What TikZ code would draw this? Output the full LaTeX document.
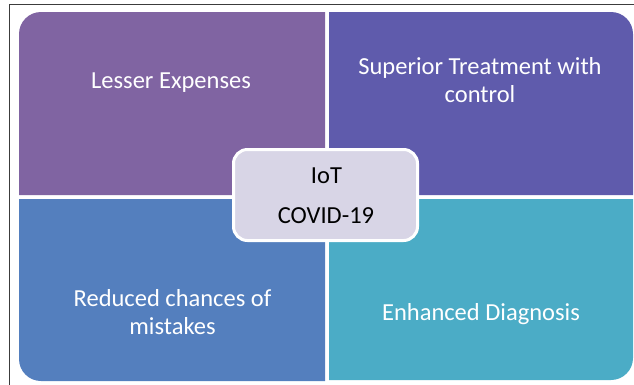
\documentclass[tikz,border=0pt]{standalone}
\usepackage{fontspec}
\setmainfont{Carlito}
\definecolor{qA}{RGB}{128,100,162}
\definecolor{qB}{RGB}{95,91,172}
\definecolor{qC}{RGB}{84,127,190}
\definecolor{qD}{RGB}{75,172,198}
\definecolor{coreFill}{RGB}{216,213,230}
\definecolor{frameCol}{RGB}{60,60,60}
\tikzset{
  x=1bp, y=1bp,
  quadtext/.style={text=white, align=center, inner sep=0pt, anchor=base, font=\fontsize{24.5bp}{27.5bp}\selectfont},
  coretext/.style={text=black, inner sep=0pt, anchor=base, font=\fontsize{24.5bp}{27.5bp}\selectfont},
  corebox/.style={draw=white, line width=3bp, fill=coreFill, rounded corners=14bp, minimum width=184bp, minimum height=91bp, inner sep=0pt}
}
\begin{document}
\begin{tikzpicture}
\useasboundingbox (0,0) rectangle (634,-384);
\clip (0,0) rectangle (634,-384);
% frame (right and bottom sides lie outside the picture)
\draw[frameCol, line width=1.5bp] (9.5,-395) -- (9.5,-4.5) -- (645,-4.5);
% quadrants
\fill[qA] (19,-195) -- (19,-34) arc[start angle=180,end angle=90,radius=22bp] -- (325,-12) -- (325,-195) -- cycle;
\fill[qB] (329,-195) -- (329,-12) -- (611,-12) arc[start angle=90,end angle=0,radius=22bp] -- (633,-195) -- cycle;
\fill[qC] (19,-199) -- (325,-199) -- (325,-381) -- (41,-381) arc[start angle=270,end angle=180,radius=22bp] -- cycle;
\fill[qD] (329,-199) -- (633,-199) -- (633,-358) arc[start angle=0,end angle=-90,radius=22bp] -- (329,-380) -- cycle;
% texts (base anchor = baseline of the last line)
\node[quadtext] (tl) at (171,-88) {Lesser Expenses};
\node[quadtext] (tr) at (480,-102) {Superior Treatment with\\control};
\node[quadtext] (bl) at (172.5,-334) {Reduced chances of\\mistakes};
\node[quadtext] (br) at (481,-320) {Enhanced Diagnosis};
% centre
\node[corebox] (core) at (325.5,-195) {};
\node[coretext] (iot) at (326.5,-183) {IoT};
\node[coretext] (covid) at (326,-223) {COVID-19};
\end{tikzpicture}
\end{document}
